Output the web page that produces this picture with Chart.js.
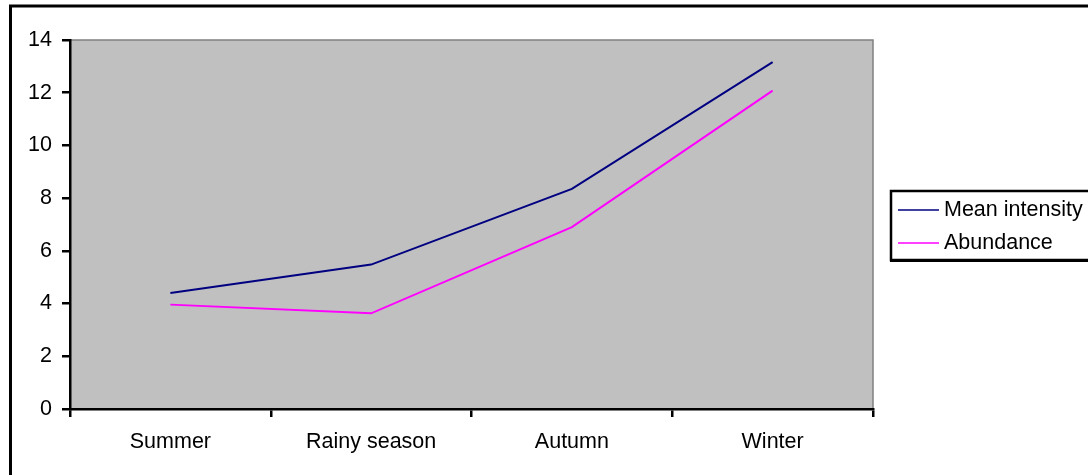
<!DOCTYPE html>
<html>
<head>
<meta charset="utf-8">
<script src="https://cdn.jsdelivr.net/npm/chart.js@4"></script>
<style>
  body { margin: 0; background: #fff; }
  #wrap { width: 1088px; height: 475px; position: relative; }
</style>
</head>
<body>
<div id="wrap"><canvas id="lineChart"></canvas></div>
<script>
const seasons = ['Summer', 'Rainy season', 'Autumn', 'Winter'];
const meanIntensity = [4.4, 5.48, 8.35, 13.16];
const abundance = [3.96, 3.63, 6.9, 12.08];
const yTicks = [0, 2, 4, 6, 8, 10, 12, 14];

const FONT = { family: 'Arial, "Liberation Sans", sans-serif', size: 21.5 };

// gray plot background, frame of the picture, legend box
const decor = {
    id: 'decor',
    beforeDraw(chart) {
        const ctx = chart.ctx;
        const a = chart.chartArea;
        ctx.save();
        ctx.fillStyle = '#fff';
        ctx.fillRect(0, 0, chart.width, chart.height);
        // outer frame (left + top only visible)
        ctx.strokeStyle = '#000';
        ctx.lineWidth = 3;
        ctx.beginPath();
        ctx.moveTo(10.5, chart.height);
        ctx.lineTo(10.5, 6);
        ctx.lineTo(chart.width, 6);
        ctx.stroke();
        // plot area
        ctx.fillStyle = '#c0c0c0';
        ctx.fillRect(a.left, a.top, a.right - a.left, a.bottom - a.top);
        ctx.strokeStyle = '#808080';
        ctx.lineWidth = 1.5;
        ctx.beginPath();
        ctx.moveTo(a.left, a.top);
        ctx.lineTo(a.right, a.top);
        ctx.lineTo(a.right, a.bottom);
        ctx.stroke();
        ctx.restore();
    },
    afterDraw(chart) {
        const ctx = chart.ctx;
        const x0 = 890, y0 = 190, h = 72;
        ctx.save();
        ctx.fillStyle = '#fff';
        ctx.fillRect(x0, y0, chart.width - x0, h);
        ctx.strokeStyle = '#000';
        ctx.lineWidth = 2.5;
        ctx.strokeRect(x0 + 1, y0 + 1, chart.width, h - 3);
        ctx.lineWidth = 2;
        ctx.beginPath();
        ctx.moveTo(x0, y0 + h - 1);
        ctx.lineTo(chart.width, y0 + h - 1);
        ctx.stroke();
        ctx.font = FONT.size + 'px ' + FONT.family;
        ctx.textBaseline = 'middle';
        chart.data.datasets.forEach((ds, i) => {
            const y = 210 + i * 33;
            ctx.strokeStyle = ds.borderColor;
            ctx.lineWidth = 1.5;
            ctx.beginPath();
            ctx.moveTo(898, y);
            ctx.lineTo(939, y);
            ctx.stroke();
            ctx.fillStyle = '#000';
            ctx.fillText(ds.label, 944, y);
        });
        ctx.restore();
    }
};

new Chart(document.getElementById('lineChart'), {
    type: 'line',
    data: {
        labels: seasons,
        datasets: [
            { label: 'Mean intensity', data: meanIntensity, borderColor: '#000080', borderWidth: 2, pointRadius: 0, tension: 0 },
            { label: 'Abundance', data: abundance, borderColor: '#ff00ff', borderWidth: 2, pointRadius: 0, tension: 0 }
        ]
    },
    options: {
        responsive: true,
        maintainAspectRatio: false,
        animation: false,
        layout: { padding: { left: 0, top: 40, right: 215, bottom: 0 } },
        plugins: { legend: { display: false }, tooltip: { enabled: false } },
        scales: {
            x: {
                offset: true,
                grid: { offset: true, drawOnChartArea: false, tickLength: 8, color: '#000', lineWidth: 2.5 },
                border: { color: '#000', width: 2.5 },
                ticks: { color: '#000', font: FONT, padding: 12, maxRotation: 0 },
                afterFit(s) { s.height = 66; }
            },
            y: {
                min: 0,
                max: 14,
                afterBuildTicks(s) { s.ticks = yTicks.map(v => ({ value: v })); },
                grid: { drawOnChartArea: false, tickLength: 8, color: '#000', lineWidth: 2.5 },
                border: { color: '#000', width: 2.5 },
                ticks: { color: '#000', font: FONT, padding: 10 },
                afterFit(s) { s.width = 70; }
            }
        }
    },
    plugins: [decor]
});
</script>
</body>
</html>
